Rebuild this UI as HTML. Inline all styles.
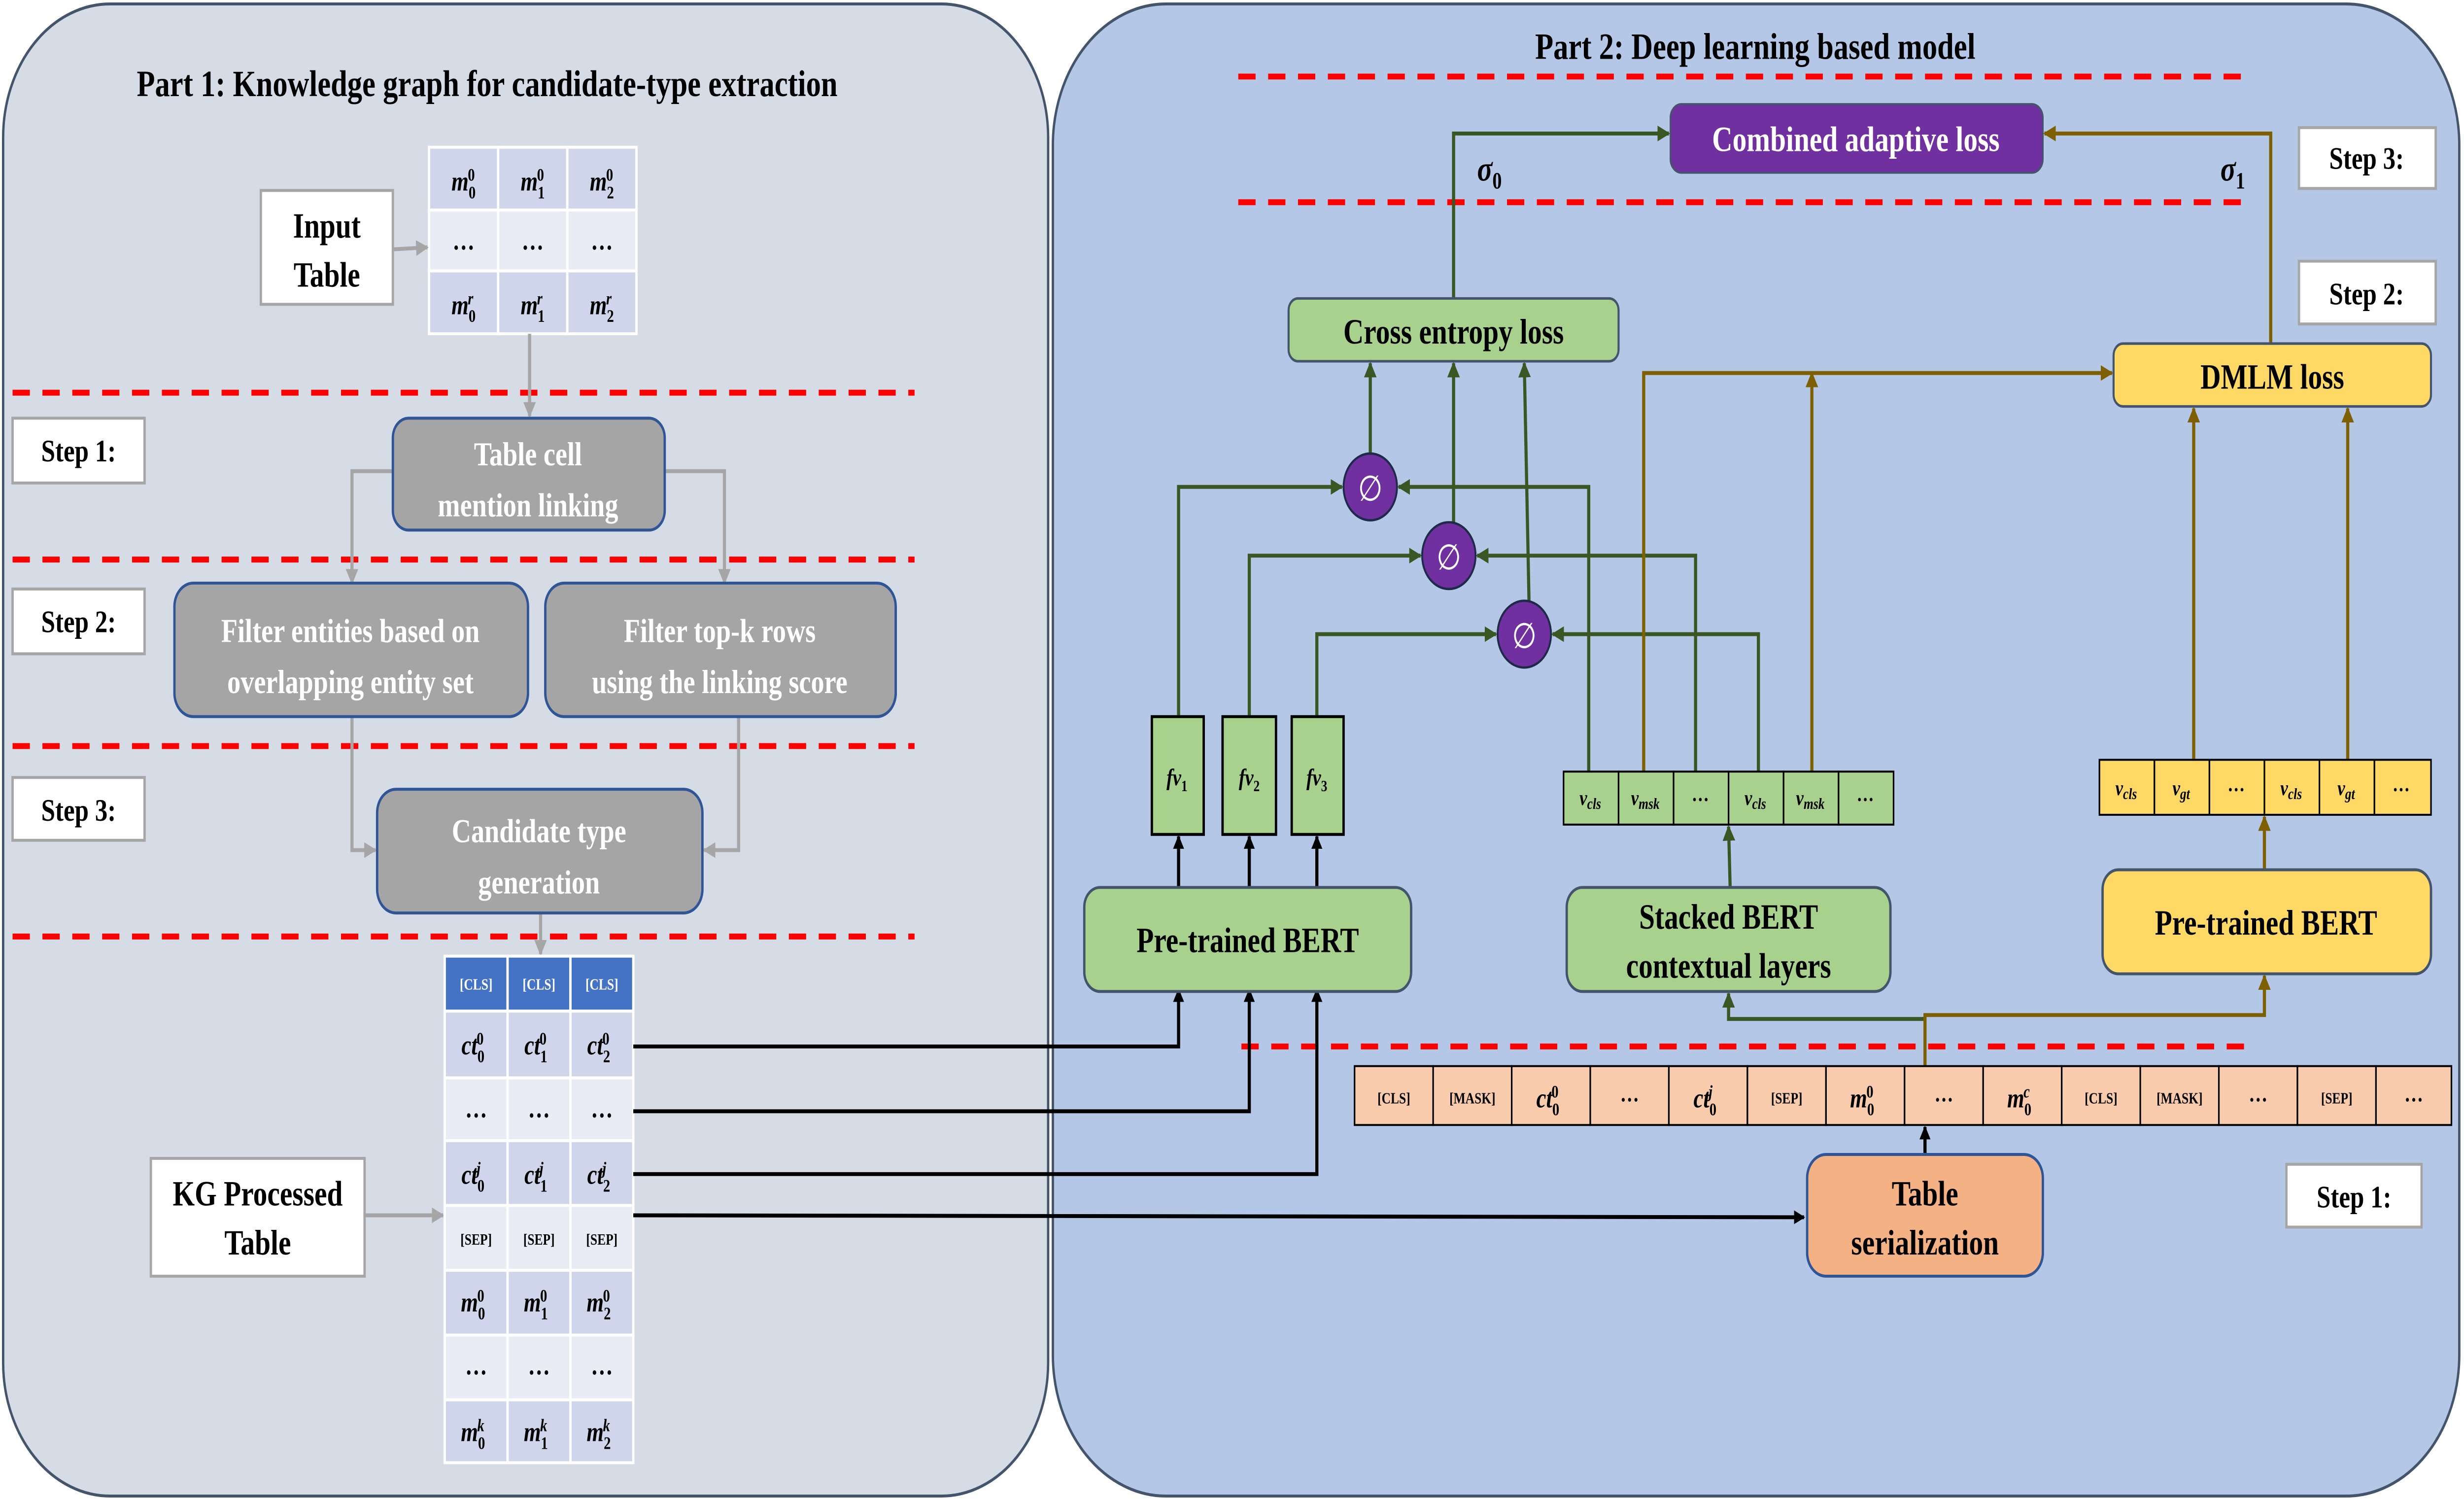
<!DOCTYPE html>
<html><head><meta charset="utf-8"><style>html,body{margin:0;padding:0;background:#fff;overflow:hidden;width:100vw;height:100vh}svg{display:block;width:100vw;height:100vh}</style></head>
<body>
<svg xmlns="http://www.w3.org/2000/svg" viewBox="0 0 1568 764" preserveAspectRatio="none" font-family="Liberation Serif, serif" font-weight="bold">
<defs>
<marker id="ag" viewBox="0 0 10 10" refX="9" refY="5" markerWidth="4" markerHeight="4" orient="auto"><path d="M0,0L10,5L0,10z" fill="#a6a6a6"/></marker>
<marker id="ak" viewBox="0 0 10 10" refX="9" refY="5" markerWidth="3.5" markerHeight="3.5" orient="auto"><path d="M0,0L10,5L0,10z" fill="#000"/></marker>
<marker id="agr" viewBox="0 0 10 10" refX="9" refY="5" markerWidth="4" markerHeight="4" orient="auto"><path d="M0,0L10,5L0,10z" fill="#385723"/></marker>
<marker id="abr" viewBox="0 0 10 10" refX="9" refY="5" markerWidth="4" markerHeight="4" orient="auto"><path d="M0,0L10,5L0,10z" fill="#7f6000"/></marker>
</defs>
<rect width="1568" height="764" fill="#fff"/>
<rect x="2" y="2" width="665" height="760" rx="68" fill="#d6dce5" stroke="#44546a" stroke-width="1.5"/>
<rect x="670" y="2" width="895" height="760" rx="72" fill="#b4c7e7" stroke="#44546a" stroke-width="1.5"/>
<text x="310" y="49" font-size="19" text-anchor="middle">Part 1: Knowledge graph for candidate-type extraction</text>
<text x="1117" y="30" font-size="19" text-anchor="middle">Part 2: Deep learning based model</text>
<g stroke="#ff0000" stroke-width="3" stroke-dasharray="11,8">
<line x1="8" y1="200" x2="582" y2="200"/><line x1="8" y1="285" x2="582" y2="285"/>
<line x1="8" y1="380" x2="582" y2="380"/><line x1="8" y1="477" x2="582" y2="477"/>
<line x1="788" y1="39" x2="1432" y2="39"/><line x1="788" y1="103" x2="1432" y2="103"/>
<line x1="790" y1="533" x2="1432" y2="533"/>
</g>
<g fill="#fff" stroke="#a6a6a6" stroke-width="1.5">
<rect x="8" y="213" width="84" height="33"/><rect x="8" y="300" width="84" height="33"/><rect x="8" y="396" width="84" height="32"/>
<rect x="1463" y="65" width="87" height="31"/><rect x="1463" y="133" width="87" height="32"/><rect x="1455" y="593" width="86" height="32"/>
<rect x="166" y="97" width="84" height="58"/><rect x="96" y="590" width="136" height="60"/>
</g>
<g font-size="16" text-anchor="middle">
<text x="50" y="235">Step 1:</text><text x="50" y="322">Step 2:</text><text x="50" y="418">Step 3:</text>
<text x="1506" y="86">Step 3:</text><text x="1506" y="155">Step 2:</text><text x="1498" y="615">Step 1:</text>
</g>
<g font-size="18" text-anchor="middle">
<text x="208" y="121">Input</text><text x="208" y="146">Table</text>
<text x="164" y="614">KG Processed</text><text x="164" y="639">Table</text>
</g>
<g stroke="#fff" stroke-width="1.5">
<rect x="273" y="75" width="44" height="32" fill="#cfd5ea"/><rect x="317" y="75" width="44" height="32" fill="#cfd5ea"/><rect x="361" y="75" width="44" height="32" fill="#cfd5ea"/>
<rect x="273" y="107" width="44" height="31" fill="#e9ebf5"/><rect x="317" y="107" width="44" height="31" fill="#e9ebf5"/><rect x="361" y="107" width="44" height="31" fill="#e9ebf5"/>
<rect x="273" y="138" width="44" height="32" fill="#cfd5ea"/><rect x="317" y="138" width="44" height="32" fill="#cfd5ea"/><rect x="361" y="138" width="44" height="32" fill="#cfd5ea"/>
</g>
<g font-size="14" text-anchor="middle" font-style="italic">
<text x="295" y="97">m<tspan font-size="9" dy="4" font-style="normal">0</tspan><tspan font-size="9" dy="-9" dx="-5" font-style="normal">0</tspan></text>
<text x="339" y="97">m<tspan font-size="9" dy="4" font-style="normal">1</tspan><tspan font-size="9" dy="-9" dx="-5" font-style="normal">0</tspan></text>
<text x="383" y="97">m<tspan font-size="9" dy="4" font-style="normal">2</tspan><tspan font-size="9" dy="-9" dx="-5" font-style="normal">0</tspan></text>
<text x="295" y="127" font-style="normal">…</text><text x="339" y="127" font-style="normal">…</text><text x="383" y="127" font-style="normal">…</text>
<text x="295" y="160">m<tspan font-size="9" dy="4" font-style="normal">0</tspan><tspan font-size="9" dy="-9" dx="-5">r</tspan></text>
<text x="339" y="160">m<tspan font-size="9" dy="4" font-style="normal">1</tspan><tspan font-size="9" dy="-9" dx="-5">r</tspan></text>
<text x="383" y="160">m<tspan font-size="9" dy="4" font-style="normal">2</tspan><tspan font-size="9" dy="-9" dx="-5">r</tspan></text>
</g>
<g stroke="#a6a6a6" stroke-width="2" fill="none" marker-end="url(#ag)">
<line x1="250" y1="127" x2="272" y2="126"/>
<line x1="337" y1="170" x2="337" y2="212"/>
<polyline points="250,240 224,240 224,297"/>
<polyline points="423,240 461,240 461,297"/>
<polyline points="224,365 224,433 239,433"/>
<polyline points="470,365 470,433 448,433"/>
<line x1="344" y1="465" x2="344" y2="486"/>
<line x1="232" y1="619" x2="282" y2="619"/>
</g>
<g fill="#a5a5a5" stroke="#2f5597" stroke-width="1.5">
<rect x="250" y="213" width="173" height="57" rx="10"/>
<rect x="111" y="297" width="225" height="68" rx="12"/><rect x="347" y="297" width="223" height="68" rx="12"/>
<rect x="240" y="402" width="207" height="63" rx="12"/>
</g>
<g fill="#fff" font-size="17" text-anchor="middle">
<text x="336" y="237">Table cell</text><text x="336" y="263">mention linking</text>
<text x="223" y="327">Filter entities based on</text><text x="223" y="353">overlapping entity set</text>
<text x="458" y="327">Filter top-k rows</text><text x="458" y="353">using the linking score</text>
<text x="343" y="429">Candidate type</text><text x="343" y="455">generation</text>
</g>
<g stroke="#fff" stroke-width="1.5">
<rect x="283" y="487" width="40" height="28" fill="#4472c4"/><rect x="323" y="487" width="40" height="28" fill="#4472c4"/><rect x="363" y="487" width="40" height="28" fill="#4472c4"/>
<rect x="283" y="515" width="40" height="34" fill="#cfd5ea"/><rect x="323" y="515" width="40" height="34" fill="#cfd5ea"/><rect x="363" y="515" width="40" height="34" fill="#cfd5ea"/>
<rect x="283" y="549" width="40" height="32" fill="#e9ebf5"/><rect x="323" y="549" width="40" height="32" fill="#e9ebf5"/><rect x="363" y="549" width="40" height="32" fill="#e9ebf5"/>
<rect x="283" y="581" width="40" height="33" fill="#cfd5ea"/><rect x="323" y="581" width="40" height="33" fill="#cfd5ea"/><rect x="363" y="581" width="40" height="33" fill="#cfd5ea"/>
<rect x="283" y="614" width="40" height="33" fill="#e9ebf5"/><rect x="323" y="614" width="40" height="33" fill="#e9ebf5"/><rect x="363" y="614" width="40" height="33" fill="#e9ebf5"/>
<rect x="283" y="647" width="40" height="33" fill="#cfd5ea"/><rect x="323" y="647" width="40" height="33" fill="#cfd5ea"/><rect x="363" y="647" width="40" height="33" fill="#cfd5ea"/>
<rect x="283" y="680" width="40" height="33" fill="#e9ebf5"/><rect x="323" y="680" width="40" height="33" fill="#e9ebf5"/><rect x="363" y="680" width="40" height="33" fill="#e9ebf5"/>
<rect x="283" y="713" width="40" height="32" fill="#cfd5ea"/><rect x="323" y="713" width="40" height="32" fill="#cfd5ea"/><rect x="363" y="713" width="40" height="32" fill="#cfd5ea"/>
</g>
<g font-size="8" text-anchor="middle">
<text x="303" y="504" fill="#fff">[CLS]</text><text x="343" y="504" fill="#fff">[CLS]</text><text x="383" y="504" fill="#fff">[CLS]</text>
<text x="303" y="634">[SEP]</text><text x="343" y="634">[SEP]</text><text x="383" y="634">[SEP]</text>
</g>
<g font-size="14" text-anchor="middle" font-style="italic">
<text x="301" y="537">ct<tspan font-size="9" dy="4" font-style="normal">0</tspan><tspan font-size="9" dy="-9" dx="-5" font-style="normal">0</tspan></text>
<text x="341" y="537">ct<tspan font-size="9" dy="4" font-style="normal">1</tspan><tspan font-size="9" dy="-9" dx="-5" font-style="normal">0</tspan></text>
<text x="381" y="537">ct<tspan font-size="9" dy="4" font-style="normal">2</tspan><tspan font-size="9" dy="-9" dx="-5" font-style="normal">0</tspan></text>
<text x="303" y="569" font-style="normal">…</text><text x="343" y="569" font-style="normal">…</text><text x="383" y="569" font-style="normal">…</text>
<text x="301" y="603">ct<tspan font-size="9" dy="4" font-style="normal">0</tspan><tspan font-size="9" dy="-9" dx="-5">j</tspan></text>
<text x="341" y="603">ct<tspan font-size="9" dy="4" font-style="normal">1</tspan><tspan font-size="9" dy="-9" dx="-5">j</tspan></text>
<text x="381" y="603">ct<tspan font-size="9" dy="4" font-style="normal">2</tspan><tspan font-size="9" dy="-9" dx="-5">j</tspan></text>
<text x="301" y="668">m<tspan font-size="9" dy="4" font-style="normal">0</tspan><tspan font-size="9" dy="-9" dx="-5" font-style="normal">0</tspan></text>
<text x="341" y="668">m<tspan font-size="9" dy="4" font-style="normal">1</tspan><tspan font-size="9" dy="-9" dx="-5" font-style="normal">0</tspan></text>
<text x="381" y="668">m<tspan font-size="9" dy="4" font-style="normal">2</tspan><tspan font-size="9" dy="-9" dx="-5" font-style="normal">0</tspan></text>
<text x="303" y="700" font-style="normal">…</text><text x="343" y="700" font-style="normal">…</text><text x="383" y="700" font-style="normal">…</text>
<text x="301" y="734">m<tspan font-size="9" dy="4" font-style="normal">0</tspan><tspan font-size="9" dy="-9" dx="-5">k</tspan></text>
<text x="341" y="734">m<tspan font-size="9" dy="4" font-style="normal">1</tspan><tspan font-size="9" dy="-9" dx="-5">k</tspan></text>
<text x="381" y="734">m<tspan font-size="9" dy="4" font-style="normal">2</tspan><tspan font-size="9" dy="-9" dx="-5">k</tspan></text>
</g>
<g stroke="#000" stroke-width="2" fill="none" marker-end="url(#ak)">
<polyline points="403,533 750,533 750,504"/>
<polyline points="403,566 795,566 795,504"/>
<polyline points="403,598 838,598 838,504"/>
<line x1="403" y1="619" x2="1148" y2="620"/>
<line x1="750" y1="452" x2="750" y2="426"/>
<line x1="795" y1="452" x2="795" y2="426"/>
<line x1="838" y1="452" x2="838" y2="426"/>
<line x1="1225" y1="588" x2="1225" y2="574"/>
</g>
<g stroke="#385723" stroke-width="2" fill="none" marker-end="url(#agr)">
<polyline points="925,152 925,68 1062,68"/>
<line x1="872" y1="231" x2="872" y2="185"/>
<line x1="925" y1="266" x2="925" y2="185"/>
<line x1="973" y1="306" x2="970" y2="185"/>
<polyline points="750,365 750,248 854,248"/>
<polyline points="795,365 795,283 904,283"/>
<polyline points="838,365 838,323 952,323"/>
<polyline points="1011,393 1011,248 890,248"/>
<polyline points="1079,393 1079,283 940,283"/>
<polyline points="1119,393 1119,323 988,323"/>
<line x1="1101" y1="452" x2="1100" y2="421"/>
<polyline points="1225,519 1100,519 1100,506"/>
</g>
<g stroke="#7f6000" stroke-width="2" fill="none" marker-end="url(#abr)">
<polyline points="1445,175 1445,68 1301,68"/>
<polyline points="1046,393 1046,190 1344,190"/>
<line x1="1153" y1="393" x2="1153" y2="190"/>
<line x1="1396" y1="387" x2="1396" y2="208"/>
<line x1="1494" y1="387" x2="1494" y2="208"/>
<line x1="1441" y1="443" x2="1441" y2="416"/>
<polyline points="1225,543 1225,517 1441,517 1441,497"/>
</g>
<g fill="#7030a0" stroke="#1f2a4a" stroke-width="1.2">
<circle cx="872" cy="248" r="17"/><circle cx="922" cy="283" r="17"/><circle cx="970" cy="323" r="17"/>
</g>
<g fill="#fff" font-size="18" font-family="DejaVu Sans, sans-serif" font-weight="normal" text-anchor="middle">
<text x="872" y="255">∅</text><text x="922" y="290">∅</text><text x="970" y="330">∅</text>
</g>
<rect x="1063" y="53" width="237" height="35" rx="7" fill="#7030a0" stroke="#44546a"/>
<text x="1181" y="77" font-size="18" fill="#fff" text-anchor="middle">Combined adaptive loss</text>
<rect x="820" y="152" width="210" height="32" rx="6" fill="#a9d18e" stroke="#44546a" stroke-width="1.3"/>
<text x="925" y="175" font-size="18" text-anchor="middle">Cross entropy loss</text>
<rect x="1345" y="175" width="202" height="32" rx="6" fill="#ffd966" stroke="#44546a" stroke-width="1.3"/>
<text x="1446" y="198" font-size="18" text-anchor="middle">DMLM loss</text>
<text x="940" y="92" font-size="18" font-style="italic">σ<tspan font-size="12" dy="4" font-style="normal">0</tspan></text>
<text x="1413" y="92" font-size="18" font-style="italic">σ<tspan font-size="12" dy="4" font-style="normal">1</tspan></text>
<g fill="#a9d18e" stroke="#000" stroke-width="1.5">
<rect x="733" y="365" width="33" height="60"/><rect x="778" y="365" width="34" height="60"/><rect x="822" y="365" width="33" height="60"/>
</g>
<g font-size="12" text-anchor="middle" font-style="italic">
<text x="749" y="400">fv<tspan font-size="8" dy="3" font-style="normal">1</tspan></text>
<text x="795" y="400">fv<tspan font-size="8" dy="3" font-style="normal">2</tspan></text>
<text x="838" y="400">fv<tspan font-size="8" dy="3" font-style="normal">3</tspan></text>
</g>
<g fill="#a9d18e" stroke="#000" stroke-width="1">
<rect x="995" y="393" width="35" height="27"/><rect x="1030" y="393" width="35" height="27"/><rect x="1065" y="393" width="35" height="27"/>
<rect x="1100" y="393" width="35" height="27"/><rect x="1135" y="393" width="35" height="27"/><rect x="1170" y="393" width="35" height="27"/>
</g>
<g font-size="11" text-anchor="middle" font-style="italic">
<text x="1012" y="410">v<tspan font-size="8" dy="2">cls</tspan></text>
<text x="1047" y="410">v<tspan font-size="8" dy="2">msk</tspan></text>
<text x="1082" y="408" font-style="normal">…</text>
<text x="1117" y="410">v<tspan font-size="8" dy="2">cls</tspan></text>
<text x="1152" y="410">v<tspan font-size="8" dy="2">msk</tspan></text>
<text x="1187" y="408" font-style="normal">…</text>
</g>
<g fill="#ffd966" stroke="#000" stroke-width="1">
<rect x="1336" y="387" width="35" height="28"/><rect x="1371" y="387" width="35" height="28"/><rect x="1406" y="387" width="35" height="28"/>
<rect x="1441" y="387" width="35" height="28"/><rect x="1476" y="387" width="35" height="28"/><rect x="1511" y="387" width="36" height="28"/>
</g>
<g font-size="11" text-anchor="middle" font-style="italic">
<text x="1353" y="405">v<tspan font-size="8" dy="2">cls</tspan></text>
<text x="1388" y="405">v<tspan font-size="8" dy="2">gt</tspan></text>
<text x="1423" y="403" font-style="normal">…</text>
<text x="1458" y="405">v<tspan font-size="8" dy="2">cls</tspan></text>
<text x="1493" y="405">v<tspan font-size="8" dy="2">gt</tspan></text>
<text x="1528" y="403" font-style="normal">…</text>
</g>
<rect x="690" y="452" width="208" height="53" rx="10" fill="#a9d18e" stroke="#44546a" stroke-width="1.5"/>
<text x="794" y="485" font-size="18" text-anchor="middle">Pre-trained BERT</text>
<rect x="997" y="452" width="206" height="53" rx="10" fill="#a9d18e" stroke="#44546a" stroke-width="1.5"/>
<text x="1100" y="473" font-size="18" text-anchor="middle">Stacked BERT</text><text x="1100" y="498" font-size="18" text-anchor="middle">contextual layers</text>
<rect x="1338" y="443" width="209" height="53" rx="10" fill="#ffd966" stroke="#44546a" stroke-width="1.5"/>
<text x="1442" y="476" font-size="18" text-anchor="middle">Pre-trained BERT</text>
<g fill="#f8cbad" stroke="#000" stroke-width="1">
<rect x="862" y="543" width="50" height="30"/><rect x="912" y="543" width="50" height="30"/><rect x="962" y="543" width="50" height="30"/>
<rect x="1012" y="543" width="50" height="30"/><rect x="1062" y="543" width="50" height="30"/><rect x="1112" y="543" width="50" height="30"/>
<rect x="1162" y="543" width="50" height="30"/><rect x="1212" y="543" width="50" height="30"/><rect x="1262" y="543" width="50" height="30"/>
<rect x="1312" y="543" width="50" height="30"/><rect x="1362" y="543" width="50" height="30"/><rect x="1412" y="543" width="50" height="30"/>
<rect x="1462" y="543" width="50" height="30"/><rect x="1512" y="543" width="48" height="30"/>
</g>
<g font-size="8" text-anchor="middle">
<text x="887" y="562">[CLS]</text><text x="937" y="562">[MASK]</text><text x="1137" y="562">[SEP]</text>
<text x="1337" y="562">[CLS]</text><text x="1387" y="562">[MASK]</text><text x="1487" y="562">[SEP]</text>
</g>
<g font-size="12" text-anchor="middle">
<text x="1037" y="561">…</text><text x="1237" y="561">…</text><text x="1437" y="561">…</text><text x="1536" y="561">…</text>
</g>
<g font-size="14" text-anchor="middle" font-style="italic">
<text x="985" y="564">ct<tspan font-size="9" dy="4" font-style="normal">0</tspan><tspan font-size="9" dy="-9" dx="-5" font-style="normal">0</tspan></text>
<text x="1085" y="564">ct<tspan font-size="9" dy="4" font-style="normal">0</tspan><tspan font-size="9" dy="-9" dx="-5">j</tspan></text>
<text x="1185" y="564">m<tspan font-size="9" dy="4" font-style="normal">0</tspan><tspan font-size="9" dy="-9" dx="-5" font-style="normal">0</tspan></text>
<text x="1285" y="564">m<tspan font-size="9" dy="4" font-style="normal">0</tspan><tspan font-size="9" dy="-9" dx="-5">c</tspan></text>
</g>
<rect x="1150" y="588" width="150" height="62" rx="12" fill="#f4b183" stroke="#2f5597" stroke-width="1.5"/>
<text x="1225" y="614" font-size="18" text-anchor="middle">Table</text><text x="1225" y="639" font-size="18" text-anchor="middle">serialization</text>
</svg>
</body></html>
